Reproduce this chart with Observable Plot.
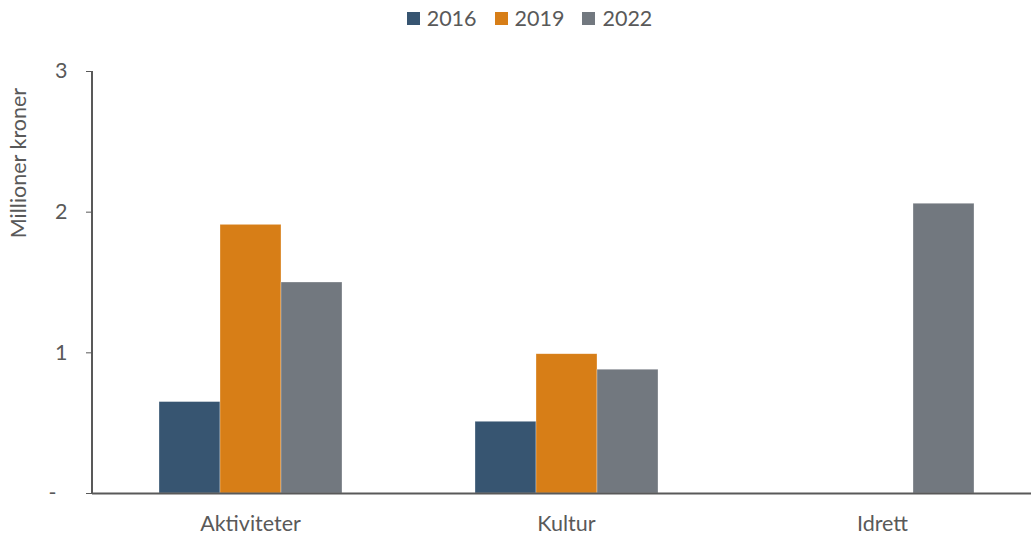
<!DOCTYPE html>
<html><head><meta charset="utf-8">
<script src="https://cdn.jsdelivr.net/npm/d3@7"></script>
<script src="https://cdn.jsdelivr.net/npm/@observablehq/plot@0.6"></script>
<style>
html,body{margin:0;padding:0;background:#fff;overflow:hidden;width:1031px;height:534px;}
body{font-family:Lato, sans-serif;color:#595959;}
#legend{height:36px;display:flex;justify-content:center;align-items:center;font-size:21.5px;padding-left:28px;box-sizing:border-box;}
#legend .item{display:flex;align-items:center;margin:0 9px;}
#legend .sw{width:13px;height:13px;margin-right:7px;}
#chart svg{max-width:none !important;overflow:visible;}
</style></head><body>
<div id="legend"></div><div id="chart"></div>
<script>
const categories = ["Aktiviteter", "Kultur", "Idrett"];
const years = ["2016", "2019", "2022"];
const values2016 = [0.65, 0.51, null];
const values2019 = [1.91, 0.99, null];
const values2022 = [1.50, 0.88, 2.06];
const colors = ["#375571", "#d77e17", "#72787f"];
const yTicks = [0, 1, 2, 3];
const yTickLabels = ["-\u00a0\u00a0", "1", "2", "3"];
const yTitle = "Millioner kroner";

const series = [values2016, values2019, values2022];
const rows = [];
categories.forEach((c, i) => years.forEach((y, j) => {
  if (series[j][i] != null) rows.push({cat: c, year: y, value: series[j][i]});
}));

const legend = document.getElementById("legend");
years.forEach((y, j) => {
  const it = document.createElement("div"); it.className = "item";
  const sw = document.createElement("div"); sw.className = "sw"; sw.style.background = colors[j];
  const tx = document.createElement("span"); tx.textContent = y;
  it.appendChild(sw); it.appendChild(tx); legend.appendChild(it);
});

const chart = Plot.plot({
  width: 1040,
  height: 498,
  marginLeft: 92,
  marginRight: 0,
  marginTop: 35,
  marginBottom: 41,
  style: {fontFamily: "Lato, sans-serif", fontSize: "21.5px", color: "#595959", background: "#fff"},
  fx: {domain: categories, padding: 0, label: null, axis: "bottom", tickSize: 0, tickPadding: 22},
  x: {domain: years, paddingInner: 0, paddingOuter: 1.09, axis: null},
  y: {domain: [0, 3], ticks: yTicks, tickFormat: d => yTickLabels[yTicks.indexOf(d)], tickSize: 6, tickPadding: 19, label: null},
  color: {domain: years, range: colors},
  marks: [
    Plot.barY(rows, {fx: "cat", x: "year", y: "value", fill: "year", stroke: "#ffffff", strokeWidth: 0.6, strokeOpacity: 0.5}),
    Plot.ruleY([0], {stroke: "#595959", strokeWidth: 2})
  ]
});
document.getElementById("chart").appendChild(chart);

const svg = d3.select(chart);
svg.append("line").attr("x1", 92).attr("x2", 92).attr("y1", 35).attr("y2", 457)
  .attr("stroke", "#595959").attr("stroke-width", 2);
svg.append("text").attr("transform", "translate(26,127) rotate(-90)")
  .attr("text-anchor", "middle").attr("fill", "#595959")
  .style("font-size", "21.5px").text(yTitle);
</script>
</body></html>
